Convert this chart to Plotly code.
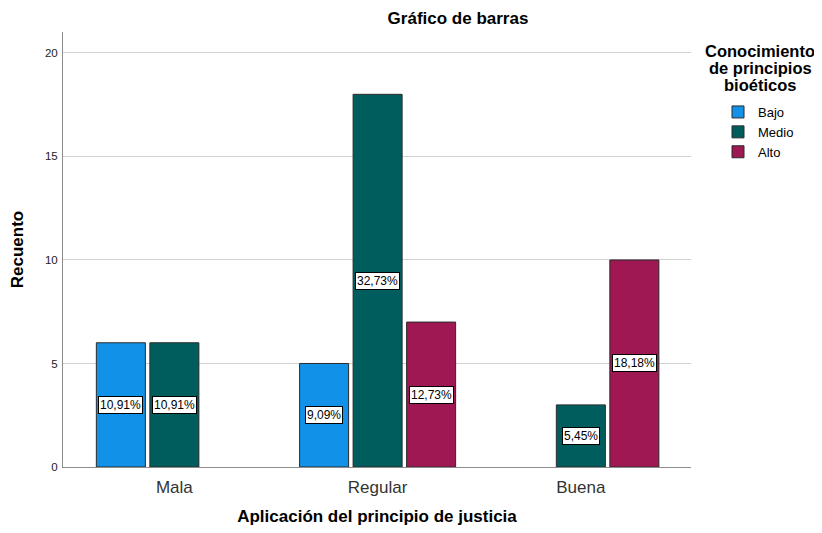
import plotly.graph_objects as go

categories = ["Mala", "Regular", "Buena"]
series_names = ["Bajo", "Medio", "Alto"]
bajo = [6, 5, None]
medio = [6, 18, 3]
alto = [None, 7, 10]
bajo_pct = ["10,91%", "9,09%", None]
medio_pct = ["10,91%", "32,73%", "5,45%"]
alto_pct = [None, "12,73%", "18,18%"]
colors = ["#1192e8", "#005d5d", "#9f1853"]
y_ticks = [0, 5, 10, 15, 20]

FONT = "Liberation Sans, Arial, sans-serif"
BARGAP = 0.21
BARGROUPGAP = 0.084

# The page body adds an 8px margin; size the figure so it fills the window.
OFF = 8
W, H = 822 - OFF, 533 - OFF
L, R = 63 - OFF, 822 - 691
T, B = 32 - OFF, 533 - 467
pw, ph = W - L - R, H - T - B


def px_x(x):
    return (x - OFF - L) / pw


def px_y(y):
    return (H - (y - OFF) - B) / ph


values = [bajo, medio, alto]
pcts = [bajo_pct, medio_pct, alto_pct]
xpos = list(range(len(categories)))

fig = go.Figure()
for name, vals, col in zip(series_names, values, colors):
    fig.add_trace(go.Bar(
        x=xpos, y=vals, name=name,
        marker=dict(color=col, line=dict(color="#2b2b2b", width=1)),
        hoverinfo="skip",
    ))

slot = (1 - BARGAP) / len(series_names)
annotations = []
for k, (vals, labs) in enumerate(zip(values, pcts)):
    off = (k - (len(series_names) - 1) / 2) * slot
    for i, (v, lab) in enumerate(zip(vals, labs)):
        if v is None:
            continue
        annotations.append(dict(
            x=i + off, y=v / 2, xref="x", yref="y", text=lab, showarrow=False,
            font=dict(family=FONT, size=12, color="#000000"),
            bgcolor="#ffffff", bordercolor="#000000", borderwidth=1, borderpad=1,
        ))

# Legend title (three tightly spaced lines)
for txt, yy in [("Conocimiento", 51), ("de principios", 68), ("bioéticos", 85)]:
    annotations.append(dict(
        x=px_x(760), y=px_y(yy), xref="paper", yref="paper", text="<b>%s</b>" % txt,
        showarrow=False, font=dict(family=FONT, size=16.5, color="#000000"),
        xanchor="center", yanchor="middle",
    ))

fig.update_layout(
    width=W, height=H,
    margin=dict(l=L, r=R, t=T, b=B, pad=0, autoexpand=False),
    paper_bgcolor="#ffffff", plot_bgcolor="#ffffff",
    barmode="group", bargap=BARGAP, bargroupgap=BARGROUPGAP,
    font=dict(family=FONT, color="#000000"),
    title=dict(text="<b>Gráfico de barras</b>", x=(458 - OFF) / W, xanchor="center",
               y=1 - (18 - OFF) / H, yanchor="middle",
               font=dict(family=FONT, size=17, color="#000000")),
    showlegend=True,
    legend=dict(x=px_x(718), y=px_y(97), xanchor="left", yanchor="top",
                font=dict(family=FONT, size=13, color="#000000"),
                itemwidth=30, bgcolor="rgba(0,0,0,0)", tracegroupgap=0),
    annotations=annotations,
)
fig.update_xaxes(
    range=[-0.548, 2.542], tickmode="array", tickvals=xpos, ticktext=categories,
    showgrid=False, zeroline=False, showline=True, linecolor="#8c8c8c", linewidth=1,
    ticks="", ticklabelstandoff=5, automargin=False,
    tickfont=dict(family=FONT, size=17, color="#333333"),
    title=dict(text="<b>Aplicación del principio de justicia</b>",
               font=dict(family=FONT, size=17, color="#000000"), standoff=13),
)
fig.update_yaxes(
    range=[0, 21.01], tickmode="array", tickvals=y_ticks,
    showgrid=True, gridcolor="#d2d2d2", gridwidth=1, zeroline=False,
    showline=True, linecolor="#8c8c8c", linewidth=1, automargin=False,
    ticks="", ticklabelstandoff=2, tickfont=dict(family=FONT, size=11.5, color="#222222"),
    title=dict(text="<b>Recuento</b>", font=dict(family=FONT, size=17, color="#000000"),
               standoff=17),
)

fig.write_html("out.html")
